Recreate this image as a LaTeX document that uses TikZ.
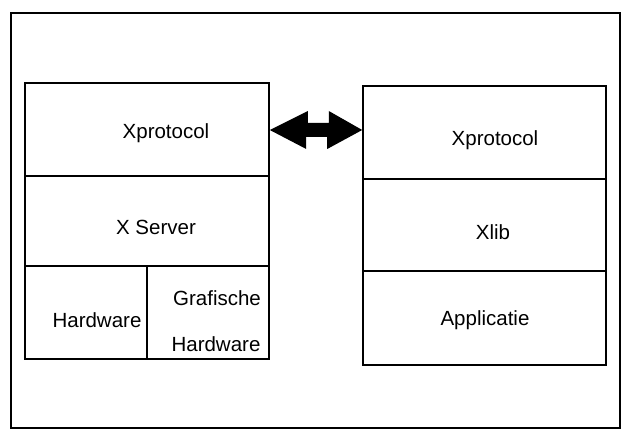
\documentclass[tikz,border=0pt]{standalone}
\usepackage{fontspec}
\setmainfont{Liberation Sans}
\begin{document}
\begin{tikzpicture}[x=1pt,y=-1pt,
  cell/.style={draw=black,line width=1.6pt,inner sep=0pt,minimum width=#1},
  lbl/.style={inner sep=0pt,font=\fontsize{20.5}{24}\selectfont},
  frame/.style={draw=black,line width=2.6pt}]
\useasboundingbox (0,0) rectangle (623,430);
\draw[frame] (11,13) rectangle (620,428);
% left stack
\node[cell=244pt,minimum height=93pt] (lxp) at (147,129.5) {};
\node[cell=244pt,minimum height=90pt] (lxs) at (147,221) {};
\node[cell=122pt,minimum height=93pt] (lhw) at (86,312.5) {};
\node[cell=122pt,minimum height=93pt] (lgh) at (208,312.5) {};
% right stack
\node[cell=243pt,minimum height=93pt] (rxp) at (484.5,132.5) {};
\node[cell=243pt,minimum height=92pt] (rxl) at (484.5,225) {};
\node[cell=243pt,minimum height=94pt] (rap) at (484.5,318) {};
% labels
\node[lbl] (t1) at (166,133) {Xprotocol};
\node[lbl] (t2) at (156,227) {X Server};
\node[lbl] (t3) at (97,320) {Hardware};
\node[lbl] (t4) at (217,298) {Grafische};
\node[lbl] (t5) at (216,344) {Hardware};
\node[lbl] (t6) at (495,140) {Xprotocol};
\node[lbl] (t7) at (493,232) {Xlib};
\node[lbl] (t8) at (485,320) {Applicatie};
% double arrow between the stacks
\coordinate (aL) at (lxp.east |- 0,130);
\coordinate (aR) at (rxp.west |- 0,130);
\fill[black] (aL) -- ++(38,-19) -- ++(0,12) -- ++(21,0) -- ++(0,-12)
  -- (aR) -- ++(-35,19) -- ++(0,-12) -- ++(-21,0) -- ++(0,12) -- cycle;
\end{tikzpicture}
\end{document}
